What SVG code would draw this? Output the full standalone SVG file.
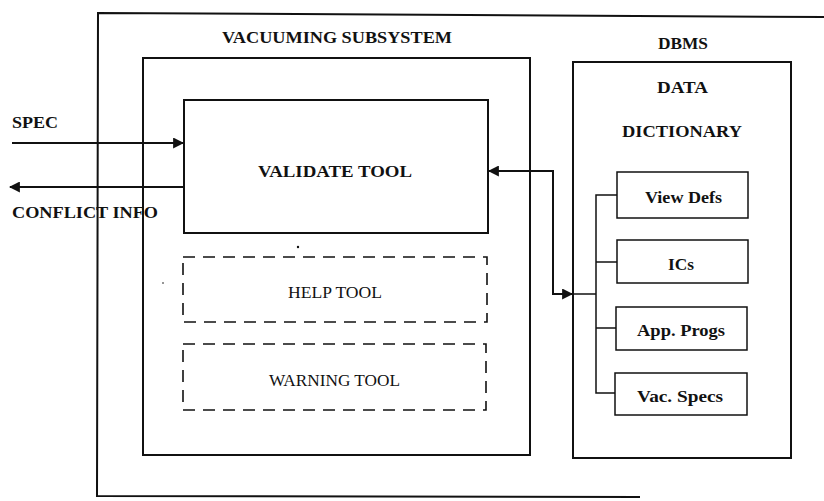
<svg xmlns="http://www.w3.org/2000/svg" width="824" height="501" viewBox="0 0 824 501">
<style>
.box{fill:none;stroke:#111;stroke-width:2}
.dash{fill:none;stroke:#111;stroke-width:1.6;stroke-dasharray:12 8}
.ln{fill:none;stroke:#111;stroke-width:2}
.thin{fill:none;stroke:#111;stroke-width:1.5}
.t{font-family:"Liberation Serif",serif;font-weight:bold;fill:#111;font-size:17px}
.n{font-family:"Liberation Serif",serif;fill:#111;font-size:16px}
</style>
<defs>
<marker id="ah" viewBox="0 0 10 10" refX="9" refY="5" markerWidth="5.5" markerHeight="5.5" orient="auto" markerUnits="strokeWidth">
<path d="M0,0 L10,5 L0,10 Z" fill="#111"/>
</marker>
</defs>
<rect width="824" height="501" fill="#fff"/>
<g id="outer">
<path class="box" d="M826,17 L98,13 L97,496 L640,497"/>
</g>
<g id="vacuuming-subsystem">
<rect class="box" x="143" y="58" width="387" height="397"/>
<text class="t" x="222" y="43" textLength="230" lengthAdjust="spacingAndGlyphs">VACUUMING SUBSYSTEM</text>
</g>
<g id="validate-tool">
<rect class="box" x="184" y="100" width="304" height="133"/>
<text class="t" x="258" y="177" textLength="154" lengthAdjust="spacingAndGlyphs">VALIDATE TOOL</text>
</g>
<g id="help-tool">
<rect class="dash" x="183" y="257" width="304" height="65"/>
<text class="n" x="288" y="298" textLength="94" lengthAdjust="spacingAndGlyphs">HELP TOOL</text>
</g>
<g id="warning-tool">
<rect class="dash" x="183" y="344" width="303" height="66"/>
<text class="n" x="269" y="386" textLength="131" lengthAdjust="spacingAndGlyphs">WARNING TOOL</text>
</g>
<g id="dbms">
<rect class="box" x="573" y="62" width="218" height="396"/>
<text class="t" x="658" y="49" textLength="50" lengthAdjust="spacingAndGlyphs">DBMS</text>
<text class="t" x="657" y="93" textLength="51" lengthAdjust="spacingAndGlyphs">DATA</text>
<text class="t" x="622" y="137" textLength="120" lengthAdjust="spacingAndGlyphs">DICTIONARY</text>
</g>
<g id="view-defs">
<rect class="thin" x="617" y="172" width="131" height="46"/>
<text class="t" x="645" y="203" textLength="77" lengthAdjust="spacingAndGlyphs">View Defs</text>
</g>
<g id="ics">
<rect class="thin" x="617" y="240" width="131" height="43"/>
<text class="t" x="668" y="270" textLength="26" lengthAdjust="spacingAndGlyphs">ICs</text>
</g>
<g id="app-progs">
<rect class="thin" x="616" y="307" width="131" height="43"/>
<text class="t" x="637" y="336" textLength="88" lengthAdjust="spacingAndGlyphs">App. Progs</text>
</g>
<g id="vac-specs">
<rect class="thin" x="615" y="373" width="132" height="42"/>
<text class="t" x="637" y="402" textLength="86" lengthAdjust="spacingAndGlyphs">Vac. Specs</text>
</g>
<g id="labels">
<text class="t" x="12" y="128" textLength="46" lengthAdjust="spacingAndGlyphs">SPEC</text>
<text class="t" x="12" y="218" textLength="146" lengthAdjust="spacingAndGlyphs">CONFLICT INFO</text>
</g>
<g id="connectors">
<line class="ln" x1="12" y1="143" x2="183" y2="143" marker-end="url(#ah)"/>
<line class="ln" x1="184" y1="187" x2="10" y2="187" marker-end="url(#ah)"/>
<path class="ln" d="M553,294 L553,171 L489,171" marker-end="url(#ah)"/>
<path class="ln" d="M553,171 L553,294 L572,294" marker-end="url(#ah)"/>
<path class="thin" d="M573,294 L596,294"/>
<path class="thin" d="M617,195 L596,195 L596,393 L615,393"/>
<path class="thin" d="M596,262 L617,262"/>
<path class="thin" d="M596,328 L616,328"/>
</g>
<g id="specks">
<circle cx="298" cy="247" r="1.2" fill="#111"/>
<circle cx="163" cy="283" r="0.8" fill="#111"/>
</g>
</svg>
